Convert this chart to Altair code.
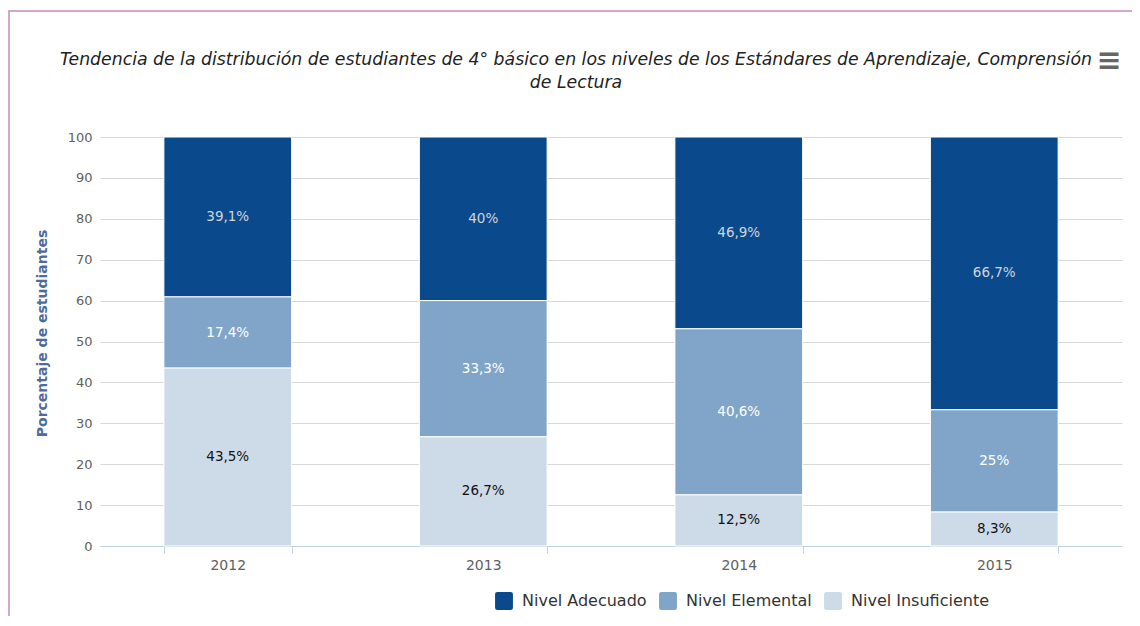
import altair as alt
import pandas as pd

years = ["2012", "2013", "2014", "2015"]
levels = ["Nivel Adecuado", "Nivel Elemental", "Nivel Insuficiente"]
adecuado = [39.1, 40.0, 46.9, 66.7]
elemental = [17.4, 33.3, 40.6, 25.0]
insuficiente = [43.5, 26.7, 12.5, 8.3]
colors = ["#0a4a8c", "#80a5c8", "#cddbe8"]

rows = []
for i, y in enumerate(years):
    for lvl, vals, order in zip(levels, [adecuado, elemental, insuficiente], [2, 1, 0]):
        v = vals[i]
        lab = (f"{v:.1f}".rstrip("0").rstrip(".")).replace(".", ",") + "%"
        rows.append({"year": y, "level": lvl, "value": v, "orden": order, "label": lab})
df = pd.DataFrame(rows)

title_text = (
    "Tendencia de la distribución de estudiantes de 4° básico en los niveles de los Estándares de Aprendizaje, Comprensión"
    "\nde Lectura"
)

base = alt.Chart(df).transform_stack(
    stack="value", as_=["y0", "y1"], groupby=["year"], sort=[alt.SortField("orden", order="ascending")]
).transform_calculate(mid="(datum.y0 + datum.y1) / 2")

xenc = alt.X(
    "year:N",
    sort=years,
    title=None,
    scale=alt.Scale(paddingInner=0.5, paddingOuter=0.25),
    axis=alt.Axis(
        labelAngle=0, labelFontSize=14, labelColor="#606060", labelFont="DejaVu Sans",
        domainColor="#c0d0e0", tickColor="#c0d0e0", tickBand="extent", tickSize=7,
        labelPadding=5, grid=False,
    ),
)

bars = base.mark_bar(stroke="white", strokeWidth=1).encode(
    x=xenc,
    y=alt.Y(
        "y0:Q",
        scale=alt.Scale(domain=[0, 100], nice=False),
        title="Porcentaje de estudiantes",
        axis=alt.Axis(
            values=list(range(0, 101, 10)), labelFontSize=13, labelColor="#606060",
            labelFont="DejaVu Sans", domain=False, ticks=False, labelPadding=8,
            gridColor="#d8d8d8", titleFont="DejaVu Sans", titleFontSize=14,
            titleFontWeight="bold", titleColor="#4d6c9c", titlePadding=18, titleY=196,
        ),
    ),
    y2="y1:Q",
    color=alt.Color(
        "level:N",
        scale=alt.Scale(domain=levels, range=colors),
        legend=alt.Legend(
            title=None, orient="none", direction="horizontal", legendX=395, legendY=455,
            labelFontSize=16, labelColor="#333333", labelFont="DejaVu Sans",
            symbolType="M -0.75 -1 L 0.75 -1 Q 1 -1 1 -0.75 L 1 0.75 Q 1 1 0.75 1 L -0.75 1 Q -1 1 -1 0.75 L -1 -0.75 Q -1 -1 -0.75 -1 Z",
            symbolSize=320, symbolStrokeWidth=0, columnPadding=12, labelOffset=9,
        ),
    ),
)

text_color = (
    alt.when(alt.datum.level == "Nivel Insuficiente").then(alt.value("#111111"))
    .when(alt.datum.level == "Nivel Adecuado").then(alt.value("#d0d4dc"))
    .otherwise(alt.value("#ffffff"))
)

texts = base.mark_text(fontSize=13.5, font="DejaVu Sans").encode(
    x=alt.X("year:N", sort=years),
    y=alt.Y("mid:Q"),
    text="label:N",
    color=text_color,
)

border = alt.Chart(pd.DataFrame({"k": [0]})).mark_rect(
    fill="transparent", stroke="#c98bbd", strokeWidth=1.5
).encode(x=alt.value(-91), x2=alt.value(1037), y=alt.value(-126), y2=alt.value(500))

menu = alt.Chart(pd.DataFrame({"k": ["≡"]})).mark_text(
    fontSize=30, fontWeight="bold", color="#666666", font="DejaVu Sans"
).encode(x=alt.value(1009), y=alt.value(-76), text="k:N")

title = alt.Chart(pd.DataFrame({"t": [title_text]})).mark_text(
    font="DejaVu Sans", fontSize=17.3, fontStyle="italic", color="#222222",
    lineBreak="\n", lineHeight=23, baseline="middle", align="center",
).encode(x=alt.value(476), y=alt.value(-77), text="t:N")

chart = alt.layer(border, bars, texts, menu, title).properties(
    width=1022,
    height=409,
    padding={"left": 92, "top": 129, "right": 10, "bottom": 70},
    autosize=alt.AutoSizeParams(type="none"),
).configure_view(stroke=None)

chart.save("out.html", embed_options={"renderer": "svg", "actions": False})
